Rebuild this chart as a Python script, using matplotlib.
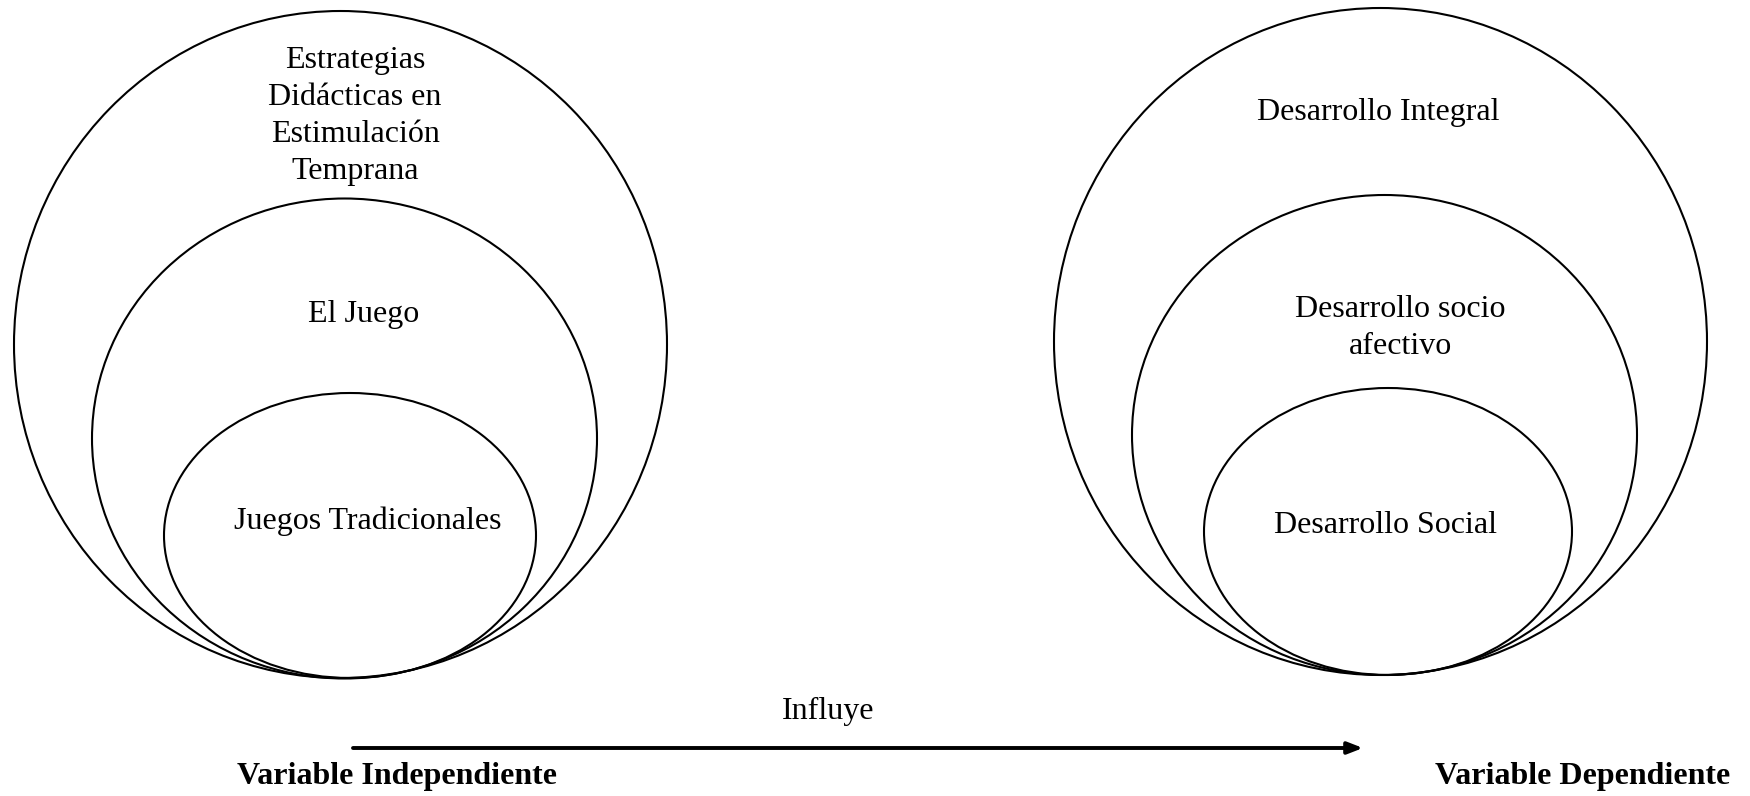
import matplotlib
matplotlib.use("Agg")
import matplotlib.pyplot as plt
from matplotlib.patches import Ellipse

# ---- data ----
left_labels = [["Estrategias", "Didácticas en", "Estimulación", "Temprana"], ["El Juego"], ["Juegos Tradicionales"]]
right_labels = [["Desarrollo Integral"], ["Desarrollo socio", "afectivo"], ["Desarrollo Social"]]
bottom_labels = ["Variable Independiente", "Variable Dependiente"]
arrow_label = "Influye"

# ellipse geometry (pixel units, y downward): center x, center y, width, height
left_cx = [340.5, 344.5, 350.0]
left_cy = [344.5, 438.5, 535.5]
left_w = [653, 505, 372]
left_h = [667, 480, 285]
right_cx = [1380.5, 1384.5, 1388.0]
right_cy = [341.5, 435.0, 531.5]
right_w = [653, 505, 368]
right_h = [667, 480, 287]

# label anchor (x center, baseline y of first line)
left_tx = [355, 364, 368]
left_ty = [68, 322, 529]
right_tx = [1378, 1400, 1386]
right_ty = [120, 317, 533]
line_step = 37

W, H = 1750, 796
fig = plt.figure(figsize=(W / 100, H / 100), dpi=100)
ax = fig.add_axes([0, 0, 1, 1])
ax.set_xlim(0, W)
ax.set_ylim(H, 0)
ax.axis("off")

font = ["Liberation Serif", "DejaVu Serif"]
fs = 23

for cx, cy, w, h in zip(left_cx + right_cx, left_cy + right_cy, left_w + right_w, left_h + right_h):
    ax.add_patch(Ellipse((cx, cy), w, h, fill=False, edgecolor="black", lw=1.5))

for lines, x, y in zip(left_labels + right_labels, left_tx + right_tx, left_ty + right_ty):
    for i, line in enumerate(lines):
        ax.text(x, y + i * line_step, line, ha="center", va="baseline", fontsize=fs, family=font)

# arrow
ax.annotate("", xy=(1363, 748), xytext=(353, 748),
            arrowprops=dict(arrowstyle="-|>,head_length=0.9,head_width=0.35",
                            lw=2.8, color="black", shrinkA=0, shrinkB=0))
ax.text(828, 719, arrow_label, ha="center", va="baseline", fontsize=fs, family=font)

ax.text(397, 784, bottom_labels[0], ha="center", va="baseline", fontsize=fs,
        family=font, fontweight="bold")
ax.text(1583, 784, bottom_labels[1], ha="center", va="baseline", fontsize=fs,
        family=font, fontweight="bold")

fig.savefig("out.png", dpi=100, facecolor="white")
